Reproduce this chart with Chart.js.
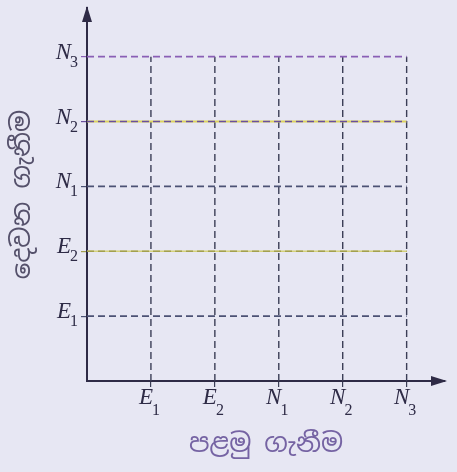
<!DOCTYPE html>
<html>
<head>
<meta charset="utf-8">
<script src="https://cdn.jsdelivr.net/npm/chart.js@4.4.1/dist/chart.umd.min.js"></script>
<style>
html,body{margin:0;padding:0;background:#e7e7f3;}
canvas{display:block;}
</style>
</head>
<body>
<canvas id="c" width="457" height="472"></canvas>
<script>
// ---- data ----
const tickLetters = ['E', 'E', 'N', 'N', 'N'];
const tickSubs = ['1', '2', '1', '2', '3'];
const tickValues = [1, 2, 3, 4, 5];
const xTitle = 'පළමු ගැනීම';
const yTitle = 'දෙවන ගැනීම';

const hColors = ['#4c5274', '#a3a04e', '#4c5274', '#6a4f9c', '#8a5fb5'];
const vColor = '#3b3e56';
const axisColor = '#2f2b46';
const labelColor = '#2e2b46';
const lastVal = tickValues[tickValues.length - 1];

const datasets = [];
// horizontal dashed lines (from y-axis to last category); earlier datasets are drawn on top
tickValues.forEach((v, i) => {
  datasets.push({
    data: [{x: 0, y: v}, {x: lastVal, y: v}],
    borderColor: hColors[i], borderWidth: 1.6, borderDash: [7, 4],
    showLine: true, pointRadius: 0
  });
  if (i === 1 || i === 3) {
    datasets.push({
      data: [{x: 0, y: v}, {x: lastVal, y: v}],
      borderColor: i === 1 ? '#d6d27a' : '#ddd35e', borderWidth: i === 1 ? 1.6 : 1.8,
      showLine: true, pointRadius: 0
    });
  }
});
// vertical dashed lines (from x-axis to last category)
tickValues.forEach((v) => {
  datasets.push({
    data: [{x: v, y: 0}, {x: v, y: lastVal}],
    borderColor: vColor, borderWidth: 1.4, borderDash: [7, 4],
    showLine: true, pointRadius: 0
  });
});

const letterFont = "italic 23px 'Liberation Serif', 'DejaVu Serif', serif";
const subFont = "16px 'Liberation Serif', 'DejaVu Serif', serif";

const axisDecor = {
  id: 'axisDecor',
  afterDraw(chart) {
    const ctx = chart.ctx;
    const xs = chart.scales.x, ys = chart.scales.y;
    const x0 = xs.getPixelForValue(0), y0 = ys.getPixelForValue(0);
    const yTop = ys.getPixelForValue(ys.max);
    const xRight = xs.getPixelForValue(xs.max);
    ctx.save();
    // arrowheads
    ctx.fillStyle = axisColor;
    ctx.beginPath();
    ctx.moveTo(x0, yTop - 2);
    ctx.lineTo(x0 - 5, yTop + 14);
    ctx.lineTo(x0 + 5, yTop + 14);
    ctx.closePath();
    ctx.fill();
    ctx.beginPath();
    ctx.moveTo(xRight + 2, y0);
    ctx.lineTo(xRight - 14, y0 - 5);
    ctx.lineTo(xRight - 14, y0 + 5);
    ctx.closePath();
    ctx.fill();
    // tick labels with subscripts
    ctx.fillStyle = labelColor;
    ctx.textBaseline = 'alphabetic';
    ctx.textAlign = 'left';
    tickValues.forEach((v, i) => {
      ctx.font = letterFont;
      const wl = ctx.measureText(tickLetters[i]).width;
      ctx.font = subFont;
      const ws = ctx.measureText(tickSubs[i]).width;
      // x axis
      const px = xs.getPixelForValue(v);
      const lx = px - (wl + ws) / 2 - 1;
      ctx.font = letterFont;
      ctx.fillText(tickLetters[i], lx, y0 + 23);
      ctx.font = subFont;
      ctx.fillText(tickSubs[i], lx + wl - 1, y0 + 34);
      // y axis
      const py = ys.getPixelForValue(v);
      const rx = x0 - 9;
      ctx.font = letterFont;
      ctx.fillText(tickLetters[i], rx - ws - wl + 1, py + 2);
      ctx.font = subFont;
      ctx.fillText(tickSubs[i], rx - ws, py + 10);
    });
    ctx.restore();
  }
};

const titleFont = {family: "'Noto Sans Sinhala', 'Noto Sans', sans-serif", size: 26};

new Chart(document.getElementById('c'), {
  type: 'scatter',
  data: {datasets},
  options: {
    responsive: false,
    animation: false,
    events: [],
    layout: {padding: {top: 8, right: 12, left: 0, bottom: 0}},
    plugins: {legend: {display: false}, tooltip: {enabled: false}},
    scales: {
      x: {
        type: 'linear', min: 0, max: 5.6,
        afterBuildTicks: (s) => { s.ticks = tickValues.map(v => ({value: v})); },
        afterFit: (s) => { s.height = 91; },
        ticks: {display: false},
        grid: {drawOnChartArea: false, drawTicks: true, tickLength: 6, color: vColor, lineWidth: 1.2},
        border: {display: true, color: axisColor, width: 2},
        title: {display: true, text: xTitle, color: '#7563a3', font: titleFont, padding: {top: 0, bottom: 12}}
      },
      y: {
        type: 'linear', min: 0, max: 5.75,
        afterBuildTicks: (s) => { s.ticks = tickValues.map(v => ({value: v})); },
        afterFit: (s) => { s.width = 87; },
        ticks: {display: false},
        grid: {drawOnChartArea: false, drawTicks: true, tickLength: 6,
               color: (c) => { const i = tickValues.indexOf(c.tick && c.tick.value); return i >= 0 ? hColors[i] : 'rgba(0,0,0,0)'; },
               lineWidth: 1.2},
        border: {display: true, color: axisColor, width: 2},
        title: {display: true, text: yTitle, color: '#55516b', font: titleFont, padding: {top: 7, bottom: 0}}
      }
    }
  },
  plugins: [axisDecor]
});
</script>
</body>
</html>
